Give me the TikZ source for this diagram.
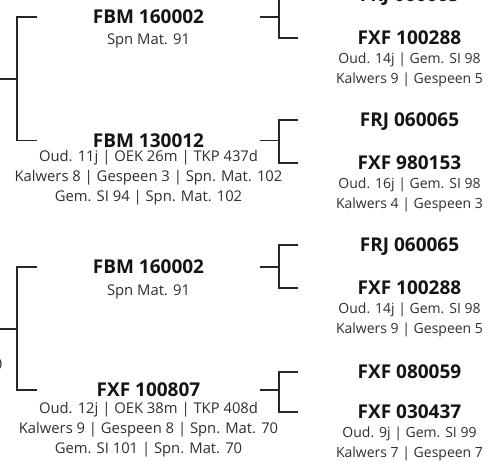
\documentclass[tikz,border=0pt]{standalone}
\usepackage{fontspec}
\setmainfont{Open Sans}
\usetikzlibrary{positioning}

\begin{document}
\begin{tikzpicture}[
        x=1pt, y=-1pt,
        link/.style={draw=black!85, line width=1.1pt},
        ident/.style={font=\fontsize{19}{22}\selectfont\bfseries, text=black!92, inner sep=0pt, text height=13.6pt, text depth=0pt},
        stats/.style={font=\fontsize{14.8}{20}\selectfont, text=black!82, align=center, inner sep=0pt},
        statsR/.style={stats, font=\fontsize{14}{20}\selectfont}
    ]

% --- Frame (the chart is cut at the page edges) ---
        \useasboundingbox (0,0) rectangle (497,461);
        \clip (0,0) rectangle (497,461);

% --- Columns of the brackets ---
        \coordinate (inA)   at (0,79);
        \coordinate (inB)   at (0,329);
        \coordinate (jL)    at (17,0);
        \coordinate (tipL)  at (37,0);
        \coordinate (stubR) at (260,0);
        \coordinate (jR)    at (279,0);
        \coordinate (tipR)  at (298,0);

% --- Left column, top pair ---
        \node[ident] (sireA) at (148.5,17) {FBM 160002};
        \node[stats, below=6pt of sireA] (sireAinfo) {\strut Spn Mat. 91};
        \node[ident] (damA) at (148.5,140.5) {FBM 130012};
        \node[stats, below=-0.5pt of damA] (damAinfo) {\strut Oud. 11j | OEK 26m | TKP 437d\\Kalwers 8 | Gespeen 3 | Spn. Mat. 102\\Gem. SI 94 | Spn. Mat. 102};

% --- Left column, bottom pair ---
        \node[ident] (sireB) at (148.5,267) {FBM 160002};
        \node[stats, below=7pt of sireB] (sireBinfo) {\strut Spn Mat. 91};
        \node[ident] (damB) at (148.5,390) {FXF 100807};
        \node[stats, below=2pt of damB] (damBinfo) {\strut Oud. 12j | OEK 38m | TKP 408d\\Kalwers 9 | Gespeen 8 | Spn. Mat. 70\\Gem. SI 101 | Spn. Mat. 70};

% --- Right column ---
        \node[ident] (sireAA) at (409.5,-5.5) {FRJ 060065};
        \node[ident] (damAA) at (409.5,38) {FXF 100288};
        \node[statsR, below=4pt of damAA] (damAAinfo) {\strut Oud. 14j | Gem. SI 98\\Kalwers 9 | Gespeen 5};

        \node[ident] (sireAB) at (409.5,120) {FRJ 060065};
        \node[ident] (damAB) at (409.5,163) {FXF 980153};
        \node[statsR, below=4pt of damAB] (damABinfo) {\strut Oud. 16j | Gem. SI 98\\Kalwers 4 | Gespeen 3};

        \node[ident] (sireBA) at (409.5,245) {FRJ 060065};
        \node[ident] (damBA) at (409.5,288) {FXF 100288};
        \node[statsR, below=4pt of damBA] (damBAinfo) {\strut Oud. 14j | Gem. SI 98\\Kalwers 9 | Gespeen 5};

        \node[ident] (sireBB) at (409.5,372) {FXF 080059};
        \node[ident] (damBB) at (409.5,412) {FXF 030437};
        \node[statsR, below=4pt of damBB] (damBBinfo) {\strut Oud. 9j | Gem. SI 99\\Kalwers 7 | Gespeen 7};

% --- Cut-off text of the generation on the left ---
        \node[stats, anchor=east] (cutB) at (2.5,364) {0};

% --- Brackets ---
        \draw[link] (inA) -- (jL |- inA);
        \draw[link] (tipL |- sireA) -| (jL |- inA) |- (tipL |- damA);
        \draw[link] (inB) -- (jL |- inB);
        \draw[link] (tipL |- sireB) -| (jL |- inB) |- (tipL |- damB);

        \draw[link] (stubR |- sireA) -- (jR |- sireA);
        \draw[link] (tipR |- sireAA) -| (jR |- sireA) |- (tipR |- damAA);
        \draw[link] (stubR |- damA) -- (jR |- damA);
        \draw[link] (tipR |- sireAB) -| (jR |- damA) |- (tipR |- damAB);
        \draw[link] (stubR |- sireB) -- (jR |- sireB);
        \draw[link] (tipR |- sireBA) -| (jR |- sireB) |- (tipR |- damBA);
        \draw[link] (stubR |- damB) -- (jR |- damB);
        \draw[link] (tipR |- sireBB) -| (jR |- damB) |- (tipR |- damBB);

    \end{tikzpicture}
\end{document}
